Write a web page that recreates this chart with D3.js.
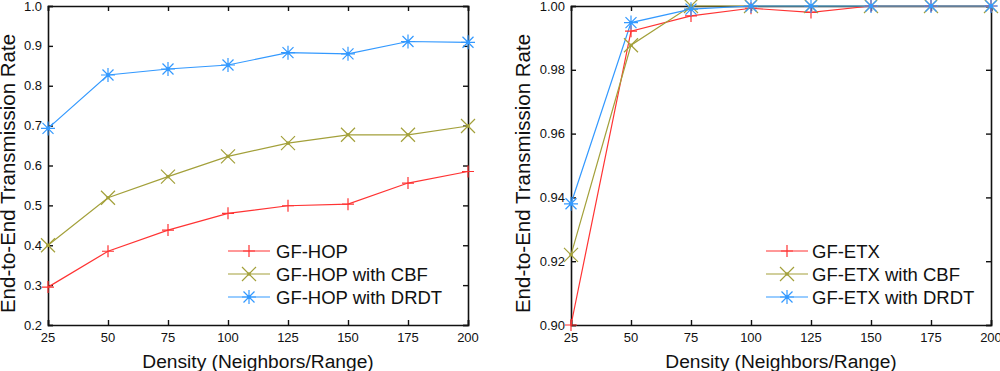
<!DOCTYPE html>
<html>
<head>
<meta charset="utf-8">
<script src="https://cdn.jsdelivr.net/npm/d3@7"></script>
<style>
  body { margin: 0; background: #fff; }
  svg { display: block; font-family: "Liberation Sans", Arial, sans-serif; }
</style>
</head>
<body>
<svg id="chart" width="1000" height="371"></svg>
<script>
// densities (neighbors/range)
const density = [25, 50, 75, 100, 125, 150, 175, 200];

// left panel: GF-HOP
const hopPlain = [0.295, 0.385, 0.438, 0.480, 0.499, 0.503, 0.556, 0.585];
const hopCbf   = [0.400, 0.519, 0.572, 0.623, 0.656, 0.677, 0.677, 0.699];
const hopDrdt  = [0.693, 0.827, 0.842, 0.852, 0.883, 0.880, 0.911, 0.909];

// right panel: GF-ETX
const etxPlain = [0.900, 0.9921, 0.9969, 0.9993, 0.998, 1.000, 1.000, 1.000];
const etxCbf   = [0.922, 0.9877, 1.000, 1.000, 1.000, 1.000, 1.000, 1.000];
const etxDrdt  = [0.938, 0.9948, 0.9990, 1.000, 1.000, 1.000, 1.000, 1.000];

const hopNames = ["GF-HOP", "GF-HOP with CBF", "GF-HOP with DRDT"];
const etxNames = ["GF-ETX", "GF-ETX with CBF", "GF-ETX with DRDT"];

const hopTicks = [0.2, 0.3, 0.4, 0.5, 0.6, 0.7, 0.8, 0.9, 1.0];
const etxTicks = [0.90, 0.92, 0.94, 0.96, 0.98, 1.00];

const colrs = ["#ff3333", "#a3a03a", "#3399ff"];
const shapes = ["plus", "cross", "star"];

const svg = d3.select("#chart");

function drawMarker(g, type, x, y, color) {
  const p = d3.path();
  if (type == "plus") {
    p.moveTo(x - 6, y); p.lineTo(x + 6, y);
    p.moveTo(x, y - 6); p.lineTo(x, y + 6);
  } else if (type == "cross") {
    p.moveTo(x - 7, y - 7); p.lineTo(x + 7, y + 7);
    p.moveTo(x - 7, y + 7); p.lineTo(x + 7, y - 7);
  } else {
    p.moveTo(x - 7, y); p.lineTo(x + 7, y);
    p.moveTo(x, y - 7); p.lineTo(x, y + 7);
    p.moveTo(x - 5.5, y - 5.5); p.lineTo(x + 5.5, y + 5.5);
    p.moveTo(x - 5.5, y + 5.5); p.lineTo(x + 5.5, y - 5.5);
  }
  g.append("path").attr("d", p.toString()).attr("stroke", color)
    .attr("stroke-width", 1.2).attr("fill", "none");
  if (type != "plus") {
    g.append("circle").attr("cx", x).attr("cy", y).attr("r", 1.8).attr("fill", color);
  }
}

function panel(left, right, yDomain, yTicks, fmt, series, names, legX, labelX, titleX) {
  const top = 6, bottom = 325;
  const x = d3.scaleLinear().domain([25, 200]).range([left, right]);
  const y = d3.scaleLinear().domain(yDomain).range([bottom, top]);
  const g = svg.append("g");

  // frame with inward ticks on all sides
  const axes = [
    d3.axisBottom(x).tickValues(density).tickSize(-5).tickFormat(""),
    d3.axisTop(x).tickValues(density).tickSize(-5).tickFormat(""),
    d3.axisLeft(y).tickValues(yTicks).tickSize(-5).tickFormat(""),
    d3.axisRight(y).tickValues(yTicks).tickSize(-5).tickFormat("")
  ];
  const pos = ["translate(0," + bottom + ")", "translate(0," + top + ")",
               "translate(" + left + ",0)", "translate(" + right + ",0)"];
  axes.forEach((a, i) => {
    const ag = g.append("g").attr("transform", pos[i]).call(a);
    ag.select(".domain").attr("stroke", "#111").attr("stroke-width", 1.6);
    ag.selectAll(".tick line").attr("stroke", "#111").attr("stroke-width", 1.4);
  });

  g.selectAll("text.xt").data(density).join("text").attr("class", "xt")
    .attr("x", d => x(d)).attr("y", bottom + 17).attr("text-anchor", "middle")
    .attr("font-size", 13).attr("fill", "#111").text(d => d);
  g.selectAll("text.yt").data(yTicks).join("text").attr("class", "yt")
    .attr("x", left - 6).attr("y", d => y(d) + 4.5).attr("text-anchor", "end")
    .attr("font-size", 13).attr("fill", "#111").text(d => d3.format(fmt)(d));

  g.append("text").attr("x", (left + right) / 2).attr("y", 368)
    .attr("text-anchor", "middle").attr("font-size", 19.2).attr("fill", "#111")
    .text("Density (Neighbors/Range)");
  g.append("text").attr("transform", "translate(" + titleX + "," + ((top + bottom) / 2 + 8) + ") rotate(-90)")
    .attr("text-anchor", "middle").attr("font-size", 20.5).attr("fill", "#111")
    .text("End-to-End Transmission Rate");

  const line = d3.line().x((d, i) => x(density[i])).y(d => y(d));
  series.forEach((s, k) => {
    g.append("path").attr("d", line(s)).attr("stroke", colrs[k])
      .attr("stroke-width", 1.2).attr("fill", "none");
  });
  series.forEach((s, k) => {
    s.forEach((v, i) => drawMarker(g, shapes[k], x(density[i]), y(v), colrs[k]));
  });

  // legend
  names.forEach((n, k) => {
    const ly = 251 + k * 23;
    g.append("line").attr("x1", legX).attr("x2", legX + 42).attr("y1", ly).attr("y2", ly)
      .attr("stroke", colrs[k]).attr("stroke-width", 1.2);
    drawMarker(g, shapes[k], legX + 21, ly, colrs[k]);
    g.append("text").attr("x", labelX).attr("y", ly + 7).attr("font-size", 18.5)
      .attr("fill", "#111").text(n);
  });
}

panel(48, 468, [0.2, 1.0], hopTicks, ".1f", [hopPlain, hopCbf, hopDrdt], hopNames, 228, 276, 15);
panel(571, 991, [0.90, 1.00], etxTicks, ".2f", [etxPlain, etxCbf, etxDrdt], etxNames, 766, 812, 530);
</script>
</body>
</html>
